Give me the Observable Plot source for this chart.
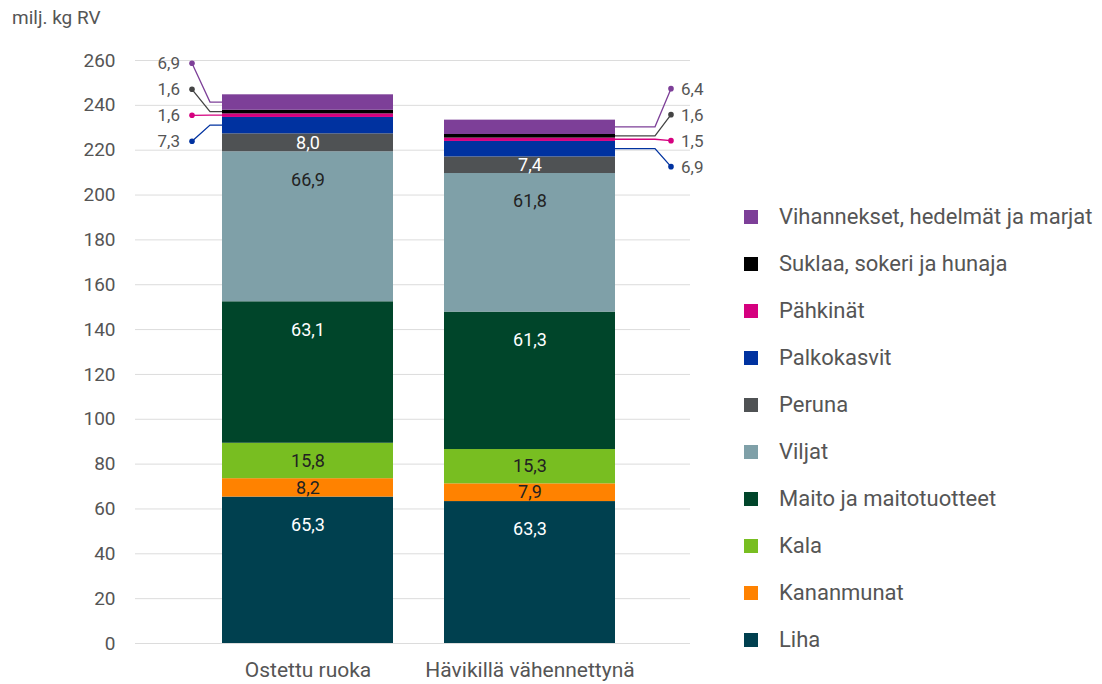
<!DOCTYPE html>
<html><head><meta charset="utf-8">
<script src="https://cdn.jsdelivr.net/npm/d3@7"></script>
<script src="https://cdn.jsdelivr.net/npm/@observablehq/plot@0.6"></script>
<style>
body{margin:0;background:#fff;font-family:Roboto,"Open Sans",sans-serif;}
#wrap{position:relative;width:1102px;height:684px;overflow:hidden;}
#ytitle{position:absolute;left:12px;top:6px;font-size:19px;color:#555;}
#legend{position:absolute;left:744px;top:193px;}
.row{height:47px;display:flex;align-items:center;font-size:22px;color:#555;}
.sw{width:14px;height:14px;margin-right:21px;}
#chart{position:absolute;left:0;top:0;}
</style></head>
<body>
<div id="wrap">
  <div id="chart"></div>
  <div id="ytitle">milj. kg RV</div>
  <div id="legend"></div>
</div>
<script>
const groups = ["Ostettu ruoka", "Hävikillä vähennettynä"];
const categories = ["Liha", "Kananmunat", "Kala", "Maito ja maitotuotteet", "Viljat", "Peruna", "Palkokasvit", "Pähkinät", "Suklaa, sokeri ja hunaja", "Vihannekset, hedelmät ja marjat"];
const ostettu = [65.3, 8.2, 15.8, 63.1, 66.9, 8.0, 7.3, 1.6, 1.6, 6.9];
const havikki = [63.3, 7.9, 15.3, 61.3, 61.8, 7.4, 6.9, 1.5, 1.6, 6.4];
const colors = ["#00404f", "#ff8200", "#78be21", "#00452a", "#7fa0a8", "#4f5254", "#0032a0", "#d5007f", "#000000", "#7d3f98"];
const yTicks = [0, 20, 40, 60, 80, 100, 120, 140, 160, 180, 200, 220, 240, 260];
const insideLabelled = ["Liha", "Kananmunat", "Kala", "Maito ja maitotuotteet", "Viljat", "Peruna"];
const darkText = ["Kananmunat", "Kala", "Viljat"];
const calloutCats = ["Vihannekset, hedelmät ja marjat", "Suklaa, sokeri ja hunaja", "Pähkinät", "Palkokasvit"];

const fmt = v => v.toFixed(1).replace(".", ",");
const series = [ostettu, havikki];
const rows = [];
groups.forEach((g, gi) => {
  let acc = 0;
  categories.forEach((c, ci) => {
    const v = series[gi][ci];
    rows.push({group: g, cat: c, value: v, y0: acc, y1: acc + v, gi});
    acc += v;
  });
});
const totals = series.map(s => d3.sum(s));

const chart = Plot.plot({
  width: 1102, height: 684,
  marginTop: 60, marginBottom: 41, marginLeft: 135, marginRight: 412,
  style: {fontFamily: "Roboto, sans-serif", color: "#555", background: "#fff"},
  x: {domain: groups, range: [222, 615], paddingInner: 0.23, paddingOuter: 0, label: null},
  y: {domain: [0, 260], label: null},
  color: {domain: categories, range: colors},
  marks: [
    Plot.ruleY(yTicks, {stroke: "#dcdcdc", strokeWidth: 1}),
    Plot.barY(rows, {x: "group", y1: "y0", y2: "y1", fill: "cat", inset: 0}),
    Plot.text(rows.filter(d => insideLabelled.includes(d.cat) && d.value < 30), {
      x: "group", y: d => (d.y0 + d.y1) / 2, text: d => fmt(d.value),
      fill: d => darkText.includes(d.cat) ? "#222" : "#fff", fontSize: 18
    }),
    Plot.text(rows.filter(d => insideLabelled.includes(d.cat) && d.value >= 30), {
      x: "group", y: "y1", dy: 28, text: d => fmt(d.value),
      fill: d => darkText.includes(d.cat) ? "#222" : "#fff", fontSize: 18
    }),
    Plot.axisY({ticks: yTicks, tickSize: 0, tickPadding: 20, fontSize: 19, label: null}),
    Plot.axisX({tickSize: 0, tickPadding: 19, fontSize: 21, label: null})
  ]
});
document.getElementById("chart").appendChild(chart);

// callouts with leader lines, positioned via the plot's own scales
const ys = chart.scale("y"), xs = chart.scale("x");
const svg = d3.select(chart);
const g = svg.append("g").attr("font-family", "Roboto, sans-serif").attr("font-size", 17).attr("fill", "#555");
groups.forEach((grp, gi) => {
  const left = gi === 0;
  const x0 = xs.apply(grp);
  const edge = left ? x0 : x0 + xs.bandwidth;
  const dotX = left ? edge - 30 : edge + 56;
  const elbowX = left ? edge - 12 : edge + 40;
  const topY = ys.apply(totals[gi]) - 31;
  calloutCats.forEach((c, i) => {
    const r = rows.find(d => d.group === grp && d.cat === c);
    const ci = categories.indexOf(c);
    const col = c.startsWith("Suklaa") ? "#444" : colors[ci];
    const segY = ys.apply((r.y0 + r.y1) / 2);
    const ly = topY + i * 26;
    g.append("path")
      .attr("d", `M${edge},${segY}L${elbowX},${segY}L${dotX},${ly}`)
      .attr("fill", "none").attr("stroke", col).attr("stroke-width", 1.3);
    g.append("circle").attr("cx", dotX).attr("cy", ly).attr("r", 2.8).attr("fill", col);
    g.append("text")
      .attr("x", left ? dotX - 12 : dotX + 10).attr("y", ly).attr("dy", "0.35em")
      .attr("text-anchor", left ? "end" : "start").text(fmt(r.value));
  });
});

// legend
const leg = document.getElementById("legend");
categories.slice().reverse().forEach(c => {
  const row = document.createElement("div");
  row.className = "row";
  const sw = document.createElement("div");
  sw.className = "sw";
  sw.style.background = colors[categories.indexOf(c)];
  const t = document.createElement("span");
  t.textContent = c;
  row.appendChild(sw); row.appendChild(t);
  leg.appendChild(row);
});
</script>
</body></html>
